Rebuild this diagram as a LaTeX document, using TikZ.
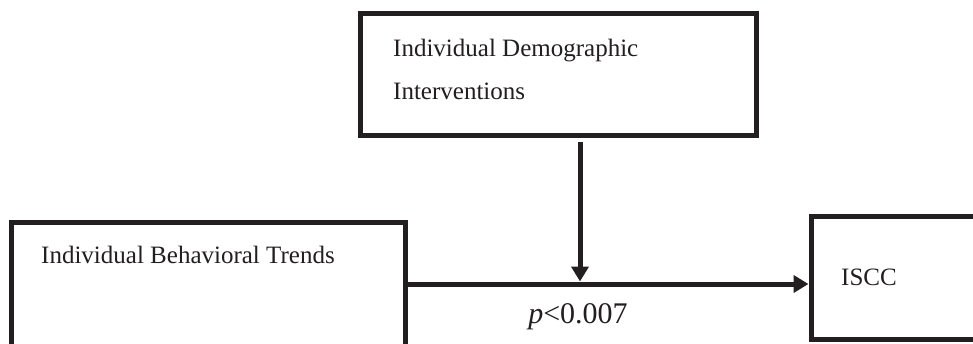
\documentclass[tikz,border=0pt]{standalone}
\usepackage{fontspec}
\setmainfont{Liberation Serif}
\usetikzlibrary{arrows.meta}
\definecolor{ink}{RGB}{35,31,32}
\begin{document}
\begin{tikzpicture}[x=1pt,y=-1pt,
  box/.style={draw=ink, line width=5pt, rectangle, inner sep=0pt, outer sep=0pt, anchor=north west},
  txt/.style={inner sep=0pt, anchor=base west, text=ink, font=\fontsize{25}{30}\selectfont},
  conn/.style={draw=ink, line width=5pt, -{Triangle[length=15pt,width=17pt]}}
]
\clip (0,0) rectangle (973,343);
\fill[white] (0,0) rectangle (973,343);

% boxes
\node[box, minimum width=396pt, minimum height=122pt] (demo) at (360,13) {};
\node[box, minimum width=394pt, minimum height=150pt] (behav) at (11,222) {};
\node[box, minimum width=200pt, minimum height=123pt] (iscc) at (811,216) {};

% box texts
\node[txt] (demo1) at (393,56) {Individual Demographic};
\node[txt] (demo2) at (393,99) {Interventions};
\node[txt] (behavtxt) at (41,263) {Individual Behavioral Trends};
\node[txt] (iscctxt) at (841,285) {ISCC};

% connectors
\coordinate (join) at (580,284);
\draw[conn] (behav.east |- join) -- ([xshift=-2.5pt]iscc.west |- join);
\draw[conn] ([yshift=-7pt]demo.south -| join) -- ([yshift=2.5pt]join);

% significance
\node[txt, anchor=base, font=\fontsize{30}{36}\selectfont] (pval) at (578,323) {\textit{p}<0.007};
\end{tikzpicture}
\end{document}
